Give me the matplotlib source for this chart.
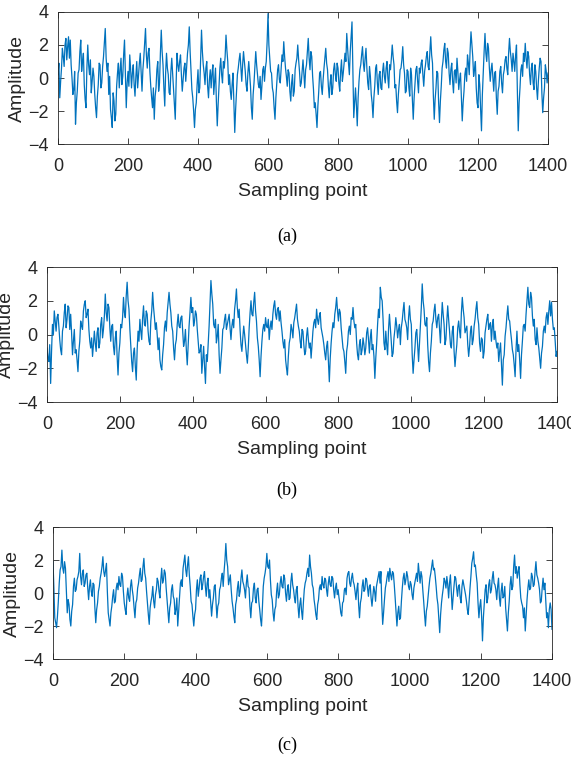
import numpy as np
import matplotlib.pyplot as plt

plt.rcParams['font.family'] = ['Liberation Sans', 'DejaVu Sans']

# amplitude at even sampling points 0, 5, 10, ..., 1400
sig_a = [
    0.2, -1.2, 0.6, 1.3, 2.0, 1.1, 2.5, 2.3, 0.0, -0.7, -2.8, -0.8, 0.5, 2.3, 1.0, -0.4, -1.8, 2.0, 0.2, -0.9,
    0.6, -1.0, -2.4, -0.4, 0.8, -0.3, 1.3, 3.0, 0.4, -1.0, -1.9, -3.0, -1.4, -2.2, 0.3, -0.6, 1.2, 0.1, 2.3, -1.8,
    0.4, 1.4, -0.6, 0.8, -1.1, 1.0, 0.2, 1.5, -0.8, 1.2, 3.0, 0.6, 1.8, -0.5, -1.8, -2.5, -0.6, 1.0, -0.3, 2.9,
    0.8, -1.7, 1.5, 0.2, -1.0, 1.2, -0.5, -2.5, 1.5, 0.4, 1.4, -0.8, 0.6, -0.2, 1.5, 3.1, 0.4, -1.2, -3.0, -1.5,
    0.5, -0.6, 2.9, 0.8, -0.4, 1.0, -1.2, 0.5, 0.3, -1.0, 0.6, -2.9, -0.5, 1.2, -0.3, 0.6, 2.6, 1.0, 0.2, -1.3,
    0.3, -3.3, -0.8, 0.6, 1.5, -0.2, 1.6, 0.4, -0.8, 1.0, -0.5, -2.5, -0.3, 1.6, 0.2, -0.6, -1.3, 0.5, -0.2, 1.0,
    3.9, 1.2, 0.3, -0.9, -2.5, -0.4, 0.8, -0.3, 1.4, 2.2, 0.6, -0.5, 0.3, -1.4, 0.2, -0.8, 0.9, 2.0, 0.4, -0.3,
    1.1, -0.6, 0.8, 2.4, 0.5, 1.3, -0.7, -1.5, -3.0, -0.8, 0.4, -1.0, 0.6, 1.8, 0.5, -1.2, 0.2, -0.6, 0.9, -0.2,
    0.6, -0.8, 1.1, 0.3, 1.5, 2.7, 0.9, 1.6, 3.4, -2.4, -0.6, -2.9, -0.2, 0.8, 1.9, 0.4, 1.8, -0.3, 0.7, -1.0,
    -2.4, -0.5, 0.8, -1.0, 0.4, -0.7, 0.9, -0.3, 1.0, -0.6, 0.5, 2.0, 0.8, -0.4, -2.1, -0.3, 0.6, 1.9, 0.3, -0.8,
    0.4, -1.1, 0.2, -2.5, -0.4, 0.7, -0.9, 0.3, 1.1, -0.5, 0.8, 1.6, 0.5, 2.5, 0.9, -2.5, -0.6, 0.3, -2.7, -0.5,
    1.0, 2.1, 0.6, 1.5, -0.4, 0.9, -0.9, 0.5, 1.2, -0.7, 0.3, -2.6, -0.8, 0.6, 1.4, 0.2, 2.8, 1.3, 0.5, -0.6,
    -1.8, -0.4, -3.2, 0.3, 2.7, 1.0, 1.8, -0.2, 0.9, -0.8, 0.4, -2.2, -0.5, 0.7, -0.9, 0.5, 1.3, 0.2, 2.4, 1.1,
    1.5, 0.4, 2.0, -3.2, -0.6, 0.8, 1.5, 2.1, 0.6, 1.3, -0.4, 0.9, -0.7, 0.4, -1.3, 0.6, 1.0, -2.1, -0.6, 0.4,
    0.3,
]
# amplitude at the in-between points 2.5, 7.5, ..., 1397.5
sig_a_mid = [
    0.9, -0.2, 1.8, 0.7, 2.4, 1.9, 1.2, 0.8, -1.0, 0.4, -1.5, 0.3, 1.6, 0.4, 1.5, -1.3, 0.6, 0.8, 1.1, -0.2,
    0.1, -1.8, -1.1, 0.9, -0.6, 0.7, 2.2, 1.2, 0.9, 0.1, -2.4, -0.9, -2.6, -0.5, 0.9, 0.5, -0.4, 1.4, 0.2, -0.3,
    -0.5, 0.5, 0.3, -0.4, 0.1, -0.6, 0.9, 0.4, 0.5, 2.1, 1.4, 1.5, 0.4, -1.2, -0.6, -1.1, 0.5, -0.8, 1.5, 1.6,
    -0.6, 0.3, 0.6, -0.9, 0.4, 0.3, -1.4, -0.3, 0.8, 1.0, 0.2, -0.1, 0.9, 0.7, 2.0, 1.6, -0.7, -2.0, -1.9, -0.4,
    -0.9, 1.1, 1.6, 0.3, 0.6, -0.5, -0.1, -0.6, 0.8, -0.2, -1.4, -1.6, 0.6, 0.2, 1.0, 1.3, 1.7, -0.4, -0.8, -0.4,
    -1.6, -1.9, 0.2, 1.1, 0.6, 0.8, 1.0, -0.4, 0.3, 0.2, -1.8, -1.0, 0.7, 0.8, -0.4, 0.1, -0.5, 0.7, 0.6, 2.2,
    2.0, 0.4, -0.6, -1.8, -1.2, 0.5, -0.1, 0.6, 1.0, 1.3, 0.1, 0.5, -0.8, -0.3, -1.1, 0.5, 1.2, 1.1, -0.5, 0.4,
    0.2, 0.5, 1.6, 1.2, 1.6, 0.1, -1.8, -2.2, -1.7, 0.3, -0.5, -0.1, 1.2, 0.9, -0.5, -0.3, -1.0, 0.5, 0.2, 0.9,
    -0.3, 0.4, -0.2, 0.9, 1.0, 1.8, 0.2, 2.5, 0.5, -1.5, -1.6, -1.2, 0.5, 1.4, 0.9, 1.2, 0.6, -0.7, 0.1, -1.5,
    -1.2, 0.6, -0.3, 0.2, -0.6, 0.4, 0.1, 0.6, 0.0, 0.8, 1.2, 1.3, -0.6, -1.4, -1.0, 0.5, 1.1, 0.8, -0.9, 0.5,
    -0.6, 0.6, -1.3, -1.2, 0.5, -0.2, 0.6, 0.9, 0.2, 0.4, 1.3, 0.7, 1.6, 1.4, -1.1, -1.3, 0.4, -1.5, -1.4, 0.6,
    1.7, 1.0, 1.8, 0.3, 0.5, -0.2, 0.4, -0.3, 0.4, -0.1, -1.2, -1.5, 0.2, -0.2, 0.9, 1.7, 2.0, 0.1, 1.0, -1.5,
    0.2, -1.9, -1.0, 1.6, 1.5, 2.1, 0.6, 0.5, 0.1, 0.3, -1.2, -0.8, 0.4, -0.3, 0.2, 1.1, 0.6, 1.5, 1.6, 0.4,
    1.0, 1.4, -0.8, -1.5, 0.5, 0.1, 1.0, 1.2, 1.6, 0.2, 0.6, -0.3, 0.8, -0.6, -0.2, 1.2, -0.9, -1.2, 0.8, -0.3,
]
sig_b = [
    -0.8, -1.6, -2.9, 0.6, 1.4, 0.2, 1.2, -0.3, -1.2, 0.5, 1.8, 0.9, 1.6, 1.2, -1.2, 0.3, -0.9, -2.2, -0.4, 0.5,
    1.4, 2.0, 1.2, 0.3, -0.8, -1.3, 0.2, -1.0, 0.4, -0.5, 1.0, 0.3, 2.4, 0.8, 1.6, -0.4, 0.6, -1.2, 0.2, -2.4,
    -0.5, 0.4, 2.2, 1.0, 3.1, 1.5, -0.6, -2.2, -0.8, -2.7, 0.2, 0.9, -0.3, 1.7, 0.5, 1.2, -0.4, 0.8, 2.5, 1.0,
    0.7, -0.9, -1.5, -2.1, -0.6, 0.8, 1.3, 2.5, 1.3, 0.2, -1.5, -0.3, 1.2, 0.4, 1.1, -0.7, 0.3, -1.8, 0.5, 2.2,
    1.6, 0.8, 1.2, -0.4, -1.0, -2.3, -0.7, -2.9, -1.6, 0.5, 3.2, 1.8, 0.4, -0.5, 0.6, -2.3, -0.8, 0.4, 1.2, 0.6,
    1.2, -0.3, 0.9, 1.5, 2.7, 1.0, 0.3, -1.0, 0.5, -0.6, -1.7, 0.4, 2.0, 1.1, 2.5, 0.8, -0.7, -2.5, -0.4, 0.6,
    1.0, 0.4, -0.3, 0.8, 1.2, 2.0, 0.9, 1.6, 1.4, 0.2, -0.8, -1.5, -2.4, -0.5, 0.6, -0.2, 1.0, 1.8, 0.5, -0.4,
    0.3, -0.6, -1.0, 0.4, -0.8, -1.4, 0.2, 0.9, 1.5, 0.6, 1.3, 0.1, -0.6, -1.5, -0.4, -2.8, -0.5, 0.7, 1.2, 2.2,
    0.8, 1.3, -0.2, -1.0, -2.3, -0.6, 0.5, 1.0, 1.6, 0.4, -0.5, -1.5, -0.3, -0.9, -0.6, -0.8, 0.4, -1.1, 0.3, -0.6,
    -2.6, -0.5, 1.5, 2.8, 2.0, -0.5, 0.2, -1.2, 1.2, -0.4, -1.1, 0.3, 0.5, 0.3, -0.6, 0.8, 1.9, 0.7, -0.3, 1.7,
    0.6, -2.3, -0.8, 0.3, -1.6, 0.5, 3.0, 1.5, 0.5, -0.6, -2.2, -0.4, 0.8, 1.8, 0.4, 1.2, -0.5, 1.9, 0.6, -0.3,
    1.7, 0.2, -0.8, 0.5, -1.9, -0.6, 0.8, -0.2, 2.2, 1.0, 0.3, -0.6, -0.7, 0.5, -0.3, 0.9, 1.95, 0.6, -1.0, -0.3,
    -1.0, 0.5, 1.2, 0.6, -0.4, 0.9, 0.2, -0.8, -1.6, -0.5, -3.0, -1.2, 0.4, 1.7, 0.8, -0.3, -1.2, -2.5, 0.2, -0.6,
    -2.6, -0.4, 0.6, 1.2, 2.8, 1.6, 2.2, 0.5, -0.3, 0.4, -0.8, -2.0, -0.7, 0.5, 1.0, 0.6, 2.0, 1.9, 0.3, -0.4,
    -1.0,
]
sig_b_mid = [
    -1.4, -0.6, -1.0, 0.0, 0.8, 1.0, 0.5, -0.9, 0.2, 1.3, 0.4, 1.7, 0.3, 0.1, -0.4, -1.1, -1.5, -1.0, 0.8, 0.3,
    1.8, 1.0, 1.5, -0.4, -0.2, -0.6, -0.5, 0.1, -0.8, 0.6, -0.2, 1.1, 1.3, 1.8, 0.4, 0.5, -0.7, -0.2, -1.3, -1.1,
    0.6, 1.0, 1.3, 2.3, 2.0, 0.3, -1.6, -1.1, -1.9, -0.9, -0.4, 0.2, 1.0, 0.6, 1.4, 0.2, -0.6, 1.4, 1.6, 0.3,
    0.0, -0.2, -1.9, -1.2, 0.4, 0.2, 1.9, 1.8, 0.5, -0.8, -0.6, 0.6, 0.5, 1.0, 0.2, -0.4, -0.9, -0.6, 1.3, 1.3,
    0.5, 1.4, 0.3, -1.1, -0.6, -1.5, -1.9, -1.2, -0.5, 1.9, 2.4, 0.6, 0.9, -0.1, -1.2, -1.5, 0.3, 0.9, 0.3, 0.9,
    0.4, 0.5, 0.4, 2.0, 1.6, 1.5, -0.6, -0.2, 0.0, -1.2, -0.8, 1.3, 1.2, 1.9, 1.4, -0.2, -1.5, -1.3, 0.3, 0.2,
    0.5, 0.9, 0.4, 0.3, 1.7, 1.2, 1.5, 0.8, 0.7, -0.4, -0.3, -2.0, -1.3, -0.2, 0.3, 0.7, 1.4, 0.9, 0.2, -0.8,
    0.2, -1.2, -0.1, -0.3, -0.5, -0.6, 0.7, 0.4, 0.9, 1.1, 0.4, -0.2, -1.1, -0.7, -1.6, -1.4, 0.2, 0.4, 1.6, 1.4,
    1.5, 0.4, -0.8, -1.6, -1.0, 0.2, 0.0, 0.9, 0.8, 0.6, -1.2, -0.6, -1.2, -0.2, -1.2, 0.1, -0.3, -0.2, -0.9, -1.3,
    -1.4, 0.6, 1.0, 2.2, 0.9, -0.9, -0.6, 0.3, 0.4, -1.3, -0.2, 1.0, -0.2, 0.6, 0.4, 1.4, 0.9, 0.4, 1.0, 0.9,
    -1.2, -1.5, 0.1, -0.7, -0.5, 1.6, 2.0, 0.6, 1.0, -1.6, -1.1, 0.6, 1.4, 0.9, 1.0, 0.3, 0.8, 1.2, -0.6, 0.8,
    0.9, -0.6, 0.2, -1.0, -1.2, 0.4, 0.2, 1.3, 1.5, 0.1, 0.5, -1.3, 0.2, -0.6, 0.5, 1.5, 1.0, -0.5, -0.2, -1.4,
    0.1, 0.9, 0.3, 0.7, 0.5, -0.3, -0.4, -0.5, -1.0, -1.8, -1.5, -0.1, 1.1, 0.9, 0.2, -0.9, -1.8, -0.9, -1.0, -1.5,
    -1.2, 0.5, 0.2, 2.0, 1.8, 2.5, 1.1, 0.9, -0.6, -0.4, -1.4, -1.1, 0.2, 0.1, 1.3, 1.4, 1.1, 0.9, 0.4, -1.3,
]
sig_c = [
    1.9, -1.5, -2.1, -0.5, 1.4, 2.6, 1.2, 1.5, -1.2, -0.7, -2.0, -0.7, 0.9, 0.2, 1.0, 2.4, 0.5, 1.4, 0.6, 1.2,
    -0.4, 0.8, -0.2, 0.5, -1.8, -0.6, 0.4, 1.2, 2.2, 1.0, 1.8, -1.2, -2.0, -0.8, 0.2, -0.5, 0.6, 1.0, 0.4, 1.0,
    -0.6, -1.3, 0.3, -0.5, 0.8, -0.2, -1.5, -0.4, 0.6, 1.5, 0.8, 2.1, 0.9, -0.6, -1.9, -0.5, 0.4, -0.9, 0.2, 0.7,
    -0.3, 1.5, 0.8, 1.2, -0.4, -1.8, -0.6, 0.5, -0.4, -1.0, -2.0, -0.2, 0.8, 1.5, 2.3, 1.0, 2.2, 0.4, -0.7, -2.0,
    -1.0, 0.8, 0.3, 1.1, 0.5, 1.3, -0.2, 0.9, 0.2, -1.4, -0.3, 0.5, -1.5, -0.6, 0.4, 1.2, 1.3, 3.0, 1.6, 0.8,
    0.2, -0.9, -1.8, -0.4, 0.7, 0.1, 1.4, 0.5, -0.3, 1.1, 0.3, -1.5, -0.5, 0.6, -0.6, 0.3, -1.0, -2.0, 0.4, 1.2,
    2.4, 1.5, 0.8, -0.4, -1.7, -0.8, 0.6, -0.1, 1.0, 0.3, 0.9, -0.5, 0.5, -0.3, 1.2, 0.2, -0.6, 0.4, -1.5, -0.3,
    -1.6, 0.2, 0.8, 1.5, 2.3, 1.2, 0.3, -0.8, -1.6, -0.4, 0.5, 1.0, 0.3, 0.8, -0.2, 1.0, 0.4, 0.9, -0.3, 0.6,
    0.2, -0.7, -1.4, -0.5, 0.3, 0.9, 1.3, 0.4, 1.2, 0.5, -0.4, 0.6, -1.5, -0.3, 0.8, 0.2, 0.8, -0.2, 0.5, -0.8,
    0.4, -0.5, 0.7, 1.3, 1.3, -1.9, -0.4, 0.6, 1.3, 1.5, 0.8, 1.2, -0.3, -2.0, -0.8, -1.5, 0.3, 1.2, 0.8, 1.0,
    0.2, 0.5, -0.4, 0.6, 1.2, 1.8, 0.6, 1.0, -0.5, -2.0, -0.8, 0.4, 1.2, 2.0, 1.5, 0.4, -0.7, -2.4, -0.6, 0.3,
    0.7, 1.0, -0.3, 1.1, -1.0, 0.4, 0.9, -0.2, 0.5, -0.6, 0.8, 0.2, -0.5, -1.3, 0.3, 1.8, 2.5, 1.7, 0.6, -1.5,
    -0.4, -2.9, -0.6, 0.5, -0.3, 0.8, 0.2, 1.3, 0.5, -0.4, 0.9, -0.8, 0.6, -0.2, -0.9, -2.3, -0.5, 1.0, 0.4, 2.3,
    1.6, 1.3, 0.5, -0.6, -1.5, -2.3, -0.4, 0.8, 0.3, 1.0, 0.5, 1.9, 0.9, 0.2, -0.5, 0.9, 0.6, -1.5, -2.1, -0.6,
    -2.2,
]
sig_c_mid = [
    0.3, -1.8, -1.4, 0.6, 1.6, 1.5, 1.9, 0.2, -0.4, -1.6, -1.1, 0.4, 0.1, 0.8, 1.3, 1.0, 1.2, 0.4, 1.1, 0.3,
    0.4, 0.1, 0.6, -0.9, -1.0, 0.1, 0.9, 1.6, 1.3, 1.4, 0.1, -1.6, -1.2, -0.2, -0.6, 0.3, 0.2, 0.5, 1.2, 0.1,
    -1.0, -0.2, -0.3, 0.4, 0.2, -0.9, -0.6, 0.3, 1.1, 0.7, 1.6, 1.2, 0.1, -1.3, -0.9, -0.2, -0.5, -0.1, 0.9, 0.1,
    0.8, 0.6, 1.4, 0.3, -1.1, -0.9, 0.2, -0.2, -1.3, -0.3, -1.1, 0.6, 0.4, 1.9, 1.4, 1.7, 1.1, -0.5, -1.4, -1.3,
    0.2, -0.2, 0.9, 0.2, 1.0, 0.4, 0.6, -0.3, -0.6, -0.7, 0.4, -0.6, -0.8, 0.2, 0.9, 0.4, 2.0, 2.0, 0.5, 1.1,
    -0.5, -1.4, -0.7, 0.3, -0.2, 0.9, 0.7, 0.2, 0.6, 0.4, -0.8, -0.6, 0.3, -0.3, 0.2, -0.5, -1.6, -0.9, 0.9, 1.6,
    1.6, 2.0, -0.1, -1.2, -1.0, 0.1, -0.3, 0.6, 0.4, 1.1, 0.0, 0.2, -0.4, 0.7, 0.5, -0.3, 0.2, -0.8, -0.7, -1.1,
    -0.6, 0.6, 1.2, 1.0, 1.6, 0.5, -0.4, -1.3, -0.7, 0.3, 0.2, 0.5, 0.9, 0.2, 0.6, 0.5, 1.0, 0.2, 0.3, -0.1,
    -0.3, -1.2, -0.6, 0.2, -0.1, 1.2, 0.6, 0.9, 0.7, 0.1, 0.2, -0.7, -0.6, 0.4, 0.1, 0.9, 0.3, 0.4, -0.3, -0.2,
    0.1, 0.4, 1.0, 0.6, -0.6, -1.2, 0.3, 1.0, 0.7, 1.1, 1.3, 0.5, -1.2, -1.2, -1.6, -0.5, 0.9, 0.5, 1.3, 0.4,
    0.7, -0.1, 0.3, 0.9, 0.7, 1.2, 1.3, 0.2, -1.3, -1.1, -0.2, 0.9, 1.6, 1.4, 1.0, -0.3, -1.6, -1.3, -0.1, 0.9,
    0.3, 0.5, 0.6, 0.1, -0.3, 1.0, 0.3, 0.4, -0.3, 0.4, 0.5, -0.1, -1.0, -0.5, 1.0, 2.1, 1.6, 1.1, -0.6, -0.8,
    -1.4, -1.5, 0.2, -0.6, 0.5, 0.0, 0.9, 0.6, 0.2, 0.4, -0.3, 0.1, -0.3, 0.4, -1.6, -1.2, 0.5, 0.2, 1.6, 1.2,
    0.9, 1.6, -0.3, -0.8, -0.9, -1.3, 0.3, 0.2, 1.2, 0.4, 1.3, 1.1, 0.6, -0.6, 0.3, 0.2, -0.4, -1.2, -1.0, -1.0,
]
captions = ['(a)', '(b)', '(c)']
xticks = [0, 200, 400, 600, 800, 1000, 1200, 1400]
yticks = [-4, -2, 0, 2, 4]


def merge(even, mid):
    vals = np.empty(len(even) + len(mid))
    vals[0::2] = even
    vals[1::2] = mid
    return vals


signals = [merge(sig_a, sig_a_mid), merge(sig_b, sig_b_mid), merge(sig_c, sig_c_mid)]

# axes boxes [left, bottom, width, height] in figure fraction
boxes = [
    [0.1016, 0.8115, 0.8581, 0.1728],
    [0.0823, 0.4738, 0.8932, 0.1767],
    [0.0928, 0.1374, 0.8739, 0.1728],
]
caption_y = [0.691, 0.358, 0.025]

fig = plt.figure(figsize=(5.71, 7.64), dpi=100)
for sig, box, cap, cy in zip(signals, boxes, captions, caption_y):
    ax = fig.add_axes(box)
    x = np.linspace(0, 1400, len(sig))
    ax.plot(x, sig, color='#0072BD', lw=0.9)
    ax.set_xlim(0, 1400)
    ax.set_ylim(-4, 4)
    ax.set_xticks(xticks)
    ax.set_yticks(yticks)
    ax.tick_params(direction='in', top=True, right=True, length=4,
                   width=0.6, colors='#262626', labelsize=13)
    ax.tick_params(axis='x', pad=10)
    ax.tick_params(axis='y', pad=7)
    for s in ax.spines.values():
        s.set_color('#262626')
        s.set_linewidth(0.6)
    ax.set_xlabel('Sampling point', fontsize=14, color='#262626', labelpad=6)
    ax.set_ylabel('Amplitude', fontsize=14, color='#262626', labelpad=1)
    fig.text(0.503, cy, cap, ha='center', va='center', fontsize=13,
             family='Liberation Serif')

fig.savefig('out.png', dpi=100)
